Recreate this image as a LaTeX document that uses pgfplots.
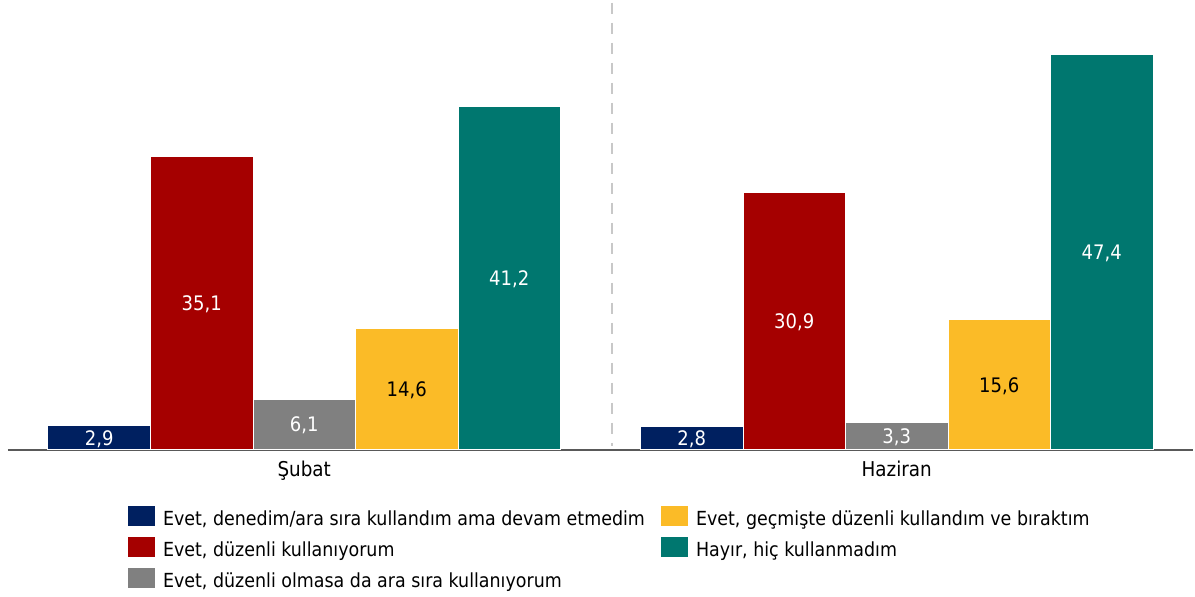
\documentclass[border=0pt]{standalone}
\usepackage{pgfplots}
\pgfplotsset{compat=1.18}
\usepackage{fontspec}
\setmainfont{DejaVu Sans Condensed}
\definecolor{cNavy}{RGB}{0,32,96}
\definecolor{cRed}{RGB}{165,0,0}
\definecolor{cGrey}{RGB}{128,128,128}
\definecolor{cYellow}{RGB}{251,187,39}
\definecolor{cTeal}{RGB}{0,119,111}
\definecolor{cAxis}{RGB}{89,89,89}
\definecolor{cDash}{RGB}{200,200,200}
\begin{document}
\fontsize{10pt}{12pt}\selectfont
\begin{tikzpicture}
\path[use as bounding box] (0,0) rectangle (597.5pt,298.5pt);
\begin{axis}[
  at={(4pt,73.5pt)}, anchor=south west,
  scale only axis, width=592.5pt, height=225pt,
  xmin=-0.5, xmax=1.5, ymin=0, ymax=53.9,
  ybar=0pt, bar width=51.25pt,
  axis y line=none,
  axis x line*=bottom,
  x axis line style={draw=cAxis, line width=1pt, -},
  xtick={0,1}, xticklabels={Şubat,Haziran},
  major tick length=0pt,
  xticklabel style={anchor=base, yshift=-13.3pt, font=\fontsize{10.2pt}{12pt}\selectfont},
  clip=false,
  /pgf/number format/.cd, use comma, fixed, fixed zerofill, precision=1, assume math mode=true, /pgfplots/.cd,
  visualization depends on={rawy \as \rawy},
  nodes near coords,
  every node near coord/.append style={anchor=center, yshift={-\rawy*2.0872pt}, text height=7.4pt, text depth=0pt, inner sep=0pt, font=\fontsize{10pt}{12pt}\selectfont},
  legend columns=3, transpose legend,
  legend cell align=left,
  legend image code/.code={\fill[#1, draw=none] (0pt,-3.25pt) rectangle (13.5pt,6.75pt);},
  legend style={at={(axis description cs:0.1013,-0.1244)}, anchor=north west, draw=none, fill=none,
    inner sep=0pt, outer sep=0pt, row sep=2.5pt,
    nodes={inner sep=0pt, text height=9.5pt, text depth=3pt},
    /tikz/every odd column/.append style={column sep=4pt},
    /tikz/every even column/.append style={column sep=8pt},
    font=\fontsize{9.7pt}{12pt}\selectfont},
]
\addplot[fill=cNavy, draw=white, line width=0.5pt, every node near coord/.append style={text=white}] coordinates {(0,2.9) (1,2.8)};
\addplot[fill=cRed, draw=white, line width=0.5pt, every node near coord/.append style={text=white}] coordinates {(0,35.1) (1,30.9)};
\addplot[fill=cGrey, draw=white, line width=0.5pt, every node near coord/.append style={text=white}] coordinates {(0,6.1) (1,3.3)};
\addplot[fill=cYellow, draw=white, line width=0.5pt, every node near coord/.append style={text=black}] coordinates {(0,14.6) (1,15.6)};
\addplot[fill=cTeal, draw=white, line width=0.5pt, every node near coord/.append style={text=white}] coordinates {(0,41.2) (1,47.4)};
\legend{{Evet, denedim/ara sıra kullandım ama devam etmedim}, {Evet, düzenli kullanıyorum}, {Evet, düzenli olmasa da ara sıra kullanıyorum}, {Evet, geçmişte düzenli kullandım ve bıraktım}, {Hayır, hiç kullanmadım}}
\end{axis}
\draw[cDash, line width=1pt, dash pattern=on 5.5pt off 4.5pt] (306.15pt,297.15pt) -- (306.15pt,75.65pt);
\end{tikzpicture}
\end{document}
